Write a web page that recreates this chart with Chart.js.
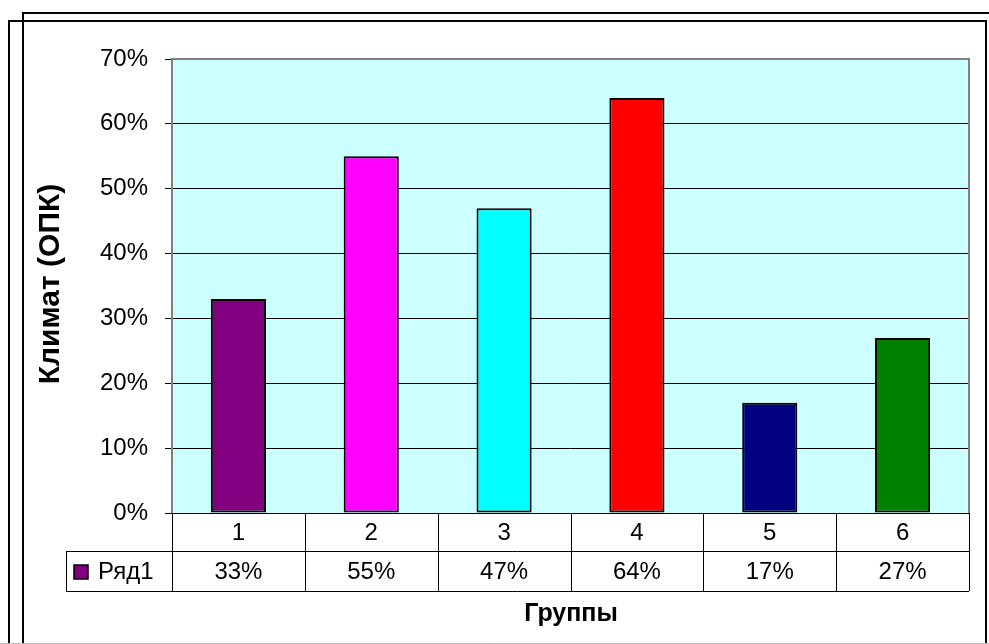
<!DOCTYPE html>
<html>
<head>
<meta charset="utf-8">
<script src="https://cdn.jsdelivr.net/npm/chart.js@4/dist/chart.umd.min.js"></script>
<style>
html,body{margin:0;padding:0;background:#fff;}
#wrap{position:relative;width:989px;height:644px;}
</style>
</head>
<body>
<div id="wrap"><canvas id="c" width="989" height="644"></canvas></div>
<script>
const categories = ['1','2','3','4','5','6'];
const values = [33, 55, 47, 64, 17, 27];
const barColors = ['#800080','#FF00FF','#00FFFF','#FF0000','#000080','#008000'];
const seriesName = 'Ряд1';
const yTitle = 'Климат (ОПК)';
const xTitle = 'Группы';
const yMin = 0, yMax = 70, yStep = 10;

const FONT = '"Liberation Sans", Arial, sans-serif';

const decor = {
  id: 'decor',
  beforeDraw(chart) {
    const ctx = chart.ctx, a = chart.chartArea;
    ctx.save();
    ctx.fillStyle = '#fff';
    ctx.fillRect(0, 0, chart.width, chart.height);
    ctx.fillStyle = '#CCFFFF';
    ctx.fillRect(a.left, a.top, a.right - a.left, a.bottom - a.top);
    ctx.restore();
  },
  afterDraw(chart) {
    const ctx = chart.ctx, a = chart.chartArea, xs = chart.scales.x;
    const n = categories.length;
    const cw = (xs.right - xs.left) / n;
    ctx.save();
    ctx.strokeStyle = '#808080';
    ctx.lineWidth = 2;
    ctx.beginPath();
    ctx.moveTo(a.left, a.bottom);
    ctx.lineTo(a.left, a.top);
    ctx.lineTo(a.right, a.top);
    ctx.lineTo(a.right, a.bottom);
    ctx.stroke();

    const r0 = a.bottom, r1 = a.bottom + 38, r2 = a.bottom + 78;
    const legLeft = 66;
    ctx.strokeStyle = '#000';
    ctx.lineWidth = 1;
    ctx.beginPath();
    ctx.moveTo(a.left, r0 + 0.5); ctx.lineTo(a.right, r0 + 0.5);
    ctx.moveTo(legLeft, r1 + 0.5); ctx.lineTo(a.right, r1 + 0.5);
    ctx.moveTo(legLeft, r2 + 0.5); ctx.lineTo(a.right, r2 + 0.5);
    ctx.moveTo(legLeft + 0.5, r1); ctx.lineTo(legLeft + 0.5, r2);
    for (let i = 0; i <= n; i++) {
      const x = Math.round(xs.left + i * cw) + 0.5;
      ctx.moveTo(x, r0); ctx.lineTo(x, r2);
    }
    ctx.stroke();

    ctx.fillStyle = '#000';
    ctx.font = '24px ' + FONT;
    ctx.textAlign = 'center';
    ctx.textBaseline = 'middle';
    for (let i = 0; i < n; i++) {
      const cx = xs.getPixelForValue(i);
      ctx.fillText(categories[i], cx, (r0 + r1) / 2 + 1);
      ctx.fillText(values[i] + '%', cx, (r1 + r2) / 2 + 1);
    }
    ctx.fillStyle = barColors[0];
    ctx.fillRect(74, r1 + 14, 14, 14);
    ctx.strokeStyle = '#000';
    ctx.lineWidth = 1.5;
    ctx.strokeRect(74, r1 + 14, 14, 14);
    ctx.fillStyle = '#000';
    ctx.textAlign = 'left';
    ctx.fillText(seriesName, 98, (r1 + r2) / 2 + 1);

    ctx.font = 'bold 25px ' + FONT;
    ctx.textAlign = 'center';
    ctx.fillText(xTitle, 571, 614);
    ctx.save();
    ctx.font = 'bold 30px ' + FONT;
    ctx.translate(51, 284);
    ctx.rotate(-Math.PI / 2);
    ctx.fillText(yTitle, 0, 0);
    ctx.restore();

    ctx.strokeStyle = '#000';
    ctx.lineWidth = 2;
    ctx.beginPath();
    ctx.moveTo(23, 644); ctx.lineTo(23, 13); ctx.lineTo(989, 13);
    ctx.stroke();
    ctx.beginPath();
    ctx.moveTo(9, 644); ctx.lineTo(9, 21); ctx.lineTo(986, 21); ctx.lineTo(986, 644);
    ctx.stroke();
    ctx.strokeStyle = '#c0c0c0';
    ctx.lineWidth = 1;
    ctx.beginPath();
    ctx.moveTo(0, 643.5); ctx.lineTo(989, 643.5);
    ctx.stroke();
    ctx.restore();
  }
};

new Chart(document.getElementById('c'), {
  type: 'bar',
  data: {
    labels: categories,
    datasets: [{
      label: seriesName,
      data: values,
      backgroundColor: barColors,
      borderColor: '#000',
      borderWidth: 2,
      borderSkipped: false,
      categoryPercentage: 1,
      barPercentage: 0.415
    }]
  },
  options: {
    responsive: false,
    animation: false,
    devicePixelRatio: 1,
    layout: { padding: { left: 0, top: 59, right: 20, bottom: 131 } },
    plugins: { legend: { display: false }, tooltip: { enabled: false } },
    scales: {
      x: {
        display: true,
        grid: { display: false, drawTicks: false },
        border: { display: false },
        ticks: { display: false },
        afterFit(s) { s.height = 0; }
      },
      y: {
        min: yMin, max: yMax,
        afterFit(s) { s.width = 172; },
        grid: { color: '#000', lineWidth: 1, drawTicks: true, tickLength: 7, tickColor: '#000' },
        border: { display: false },
        ticks: {
          stepSize: yStep,
          padding: 17,
          color: '#000',
          font: { family: FONT, size: 24 },
          callback: v => v + '%'
        }
      }
    }
  },
  plugins: [decor]
});
</script>
</body>
</html>
